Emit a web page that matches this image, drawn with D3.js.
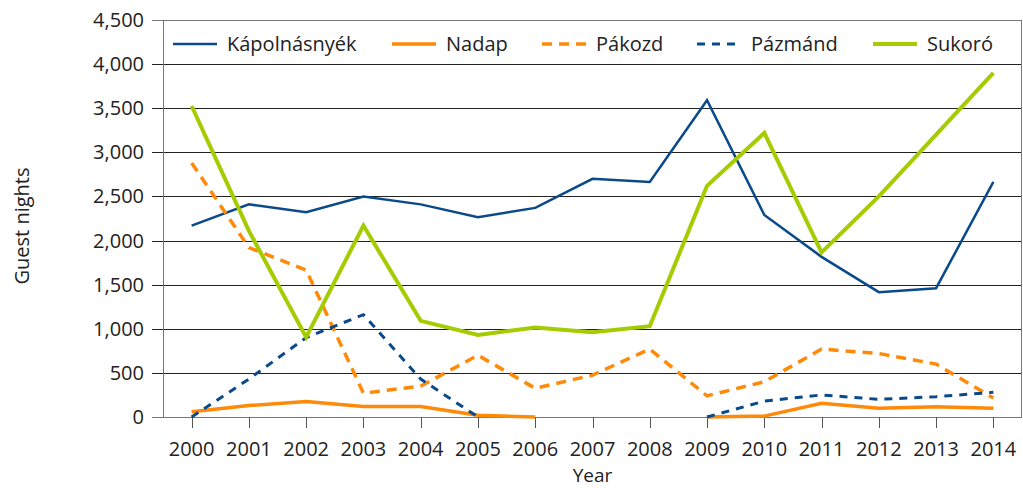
<!DOCTYPE html>
<html>
<head>
<meta charset="utf-8">
<script src="https://cdn.jsdelivr.net/npm/d3@7"></script>
<style>
  body { margin: 0; background: #fff; }
  svg text { font-family: "Open Sans", "Noto Sans", sans-serif; fill: #222; }
</style>
</head>
<body>
<div class="chart"></div>
<script>
// Years on the x axis
var years = ["2000","2001","2002","2003","2004","2005","2006","2007","2008","2009","2010","2011","2012","2013","2014"];

// Guest nights per settlement (null = no data)
var kapolnasnyek = [2170, 2410, 2320, 2500, 2410, 2265, 2370, 2700, 2665, 3590, 2290, 1815, 1415, 1460, 2665];
var nadap        = [60, 130, 175, 120, 120, 20, 0, null, null, 0, 10, 155, 100, 115, 100];
var pakozd       = [2880, 1920, 1665, 270, 350, 700, 325, 475, 770, 240, 400, 770, 720, 600, 215];
var pazmand      = [0, 430, 900, 1160, 430, 0, null, null, null, 0, 180, 250, 200, 230, 280];
var sukoro       = [3525, 2110, 905, 2170, 1090, 930, 1015, 960, 1030, 2620, 3220, 1865, 2500, 3200, 3900];

var yTicks = [0, 500, 1000, 1500, 2000, 2500, 3000, 3500, 4000, 4500];

var series = [
  { name: "Kápolnásnyék", values: kapolnasnyek, color: "#0a4a8a", width: 2.5, dash: null },
  { name: "Nadap",        values: nadap,        color: "#ff8a0a", width: 3.5, dash: null },
  { name: "Pákozd",       values: pakozd,       color: "#ff8a0a", width: 3.5, dash: "10,7" },
  { name: "Pázmánd",      values: pazmand,      color: "#0a4a8a", width: 3,   dash: "8,7" },
  { name: "Sukoró",       values: sukoro,       color: "#a4cc00", width: 4,   dash: null }
];

var width = 1023, height = 488;
var plotLeft = 163, plotRight = 1022, plotTop = 20, plotBottom = 417;

var svg = d3.select(".chart").append("svg")
    .attr("width", width)
    .attr("height", height);

var x = d3.scaleBand().domain(years).range([plotLeft, plotRight]);
var y = d3.scaleLinear().domain([0, 4500]).range([plotBottom, plotTop]);
var xc = function(d) { return x(d) + x.bandwidth() / 2; };

// Horizontal gridlines with short outer ticks
svg.append("g")
    .selectAll("line")
    .data(yTicks)
    .enter().append("line")
    .attr("x1", plotLeft - 11)
    .attr("x2", plotRight)
    .attr("y1", function(d) { return Math.round(y(d)) + 0.5; })
    .attr("y2", function(d) { return Math.round(y(d)) + 0.5; })
    .attr("stroke", function(d) { return d === 0 || d === 4500 ? "#777" : "#222"; })
    .attr("stroke-width", 1);

// Y tick labels
svg.append("g")
    .selectAll("text")
    .data(yTicks)
    .enter().append("text")
    .attr("x", 144)
    .attr("y", function(d) { return y(d); })
    .attr("dy", "0.35em")
    .attr("text-anchor", "end")
    .style("font-size", "20px")
    .text(d3.format(","));

// Frame: left axis and right border
svg.append("line").attr("x1", plotLeft + 0.5).attr("x2", plotLeft + 0.5).attr("y1", plotTop).attr("y2", plotBottom)
    .attr("stroke", "#777");
svg.append("line").attr("x1", plotRight - 0.5).attr("x2", plotRight - 0.5).attr("y1", plotTop).attr("y2", plotBottom)
    .attr("stroke", "#777");

// X axis ticks and labels
svg.append("g")
    .selectAll("line")
    .data(years)
    .enter().append("line")
    .attr("x1", function(d) { return Math.round(xc(d)) + 0.5; })
    .attr("x2", function(d) { return Math.round(xc(d)) + 0.5; })
    .attr("y1", plotBottom)
    .attr("y2", plotBottom + 11)
    .attr("stroke", "#555");

svg.append("g")
    .selectAll("text")
    .data(years)
    .enter().append("text")
    .attr("x", xc)
    .attr("y", 456)
    .attr("text-anchor", "middle")
    .style("font-size", "20px")
    .text(function(d) { return d; });

// Axis titles
svg.append("text")
    .attr("x", (plotLeft + plotRight) / 2)
    .attr("y", 482)
    .attr("text-anchor", "middle")
    .style("font-size", "19px")
    .text("Year");

svg.append("text")
    .attr("transform", "translate(29,226) rotate(-90)")
    .attr("text-anchor", "middle")
    .style("font-size", "20px")
    .text("Guest nights");

// Lines
var line = d3.line()
    .defined(function(d) { return d.v !== null; })
    .x(function(d) { return xc(d.year); })
    .y(function(d) { return y(d.v); });

svg.append("g")
    .selectAll("path")
    .data(series)
    .enter().append("path")
    .attr("d", function(s) {
        return line(s.values.map(function(v, i) { return { year: years[i], v: v }; }));
    })
    .attr("fill", "none")
    .attr("stroke", function(s) { return s.color; })
    .attr("stroke-width", function(s) { return s.width; })
    .attr("stroke-dasharray", function(s) { return s.dash; })
    .attr("stroke-linejoin", "miter");

// Legend
var legendX = [173, 392, 542, 697, 873];
var legend = svg.append("g")
    .selectAll("g")
    .data(series)
    .enter().append("g")
    .attr("transform", function(s, i) { return "translate(" + legendX[i] + ",44)"; });

legend.append("line")
    .attr("x1", 0).attr("x2", 44)
    .attr("stroke", function(s) { return s.color; })
    .attr("stroke-width", function(s) { return s.width; })
    .attr("stroke-dasharray", function(s) { return s.dash; });

legend.append("text")
    .attr("x", 54)
    .attr("dy", "0.35em")
    .style("font-size", "20px")
    .text(function(s) { return s.name; });
</script>
</body>
</html>
